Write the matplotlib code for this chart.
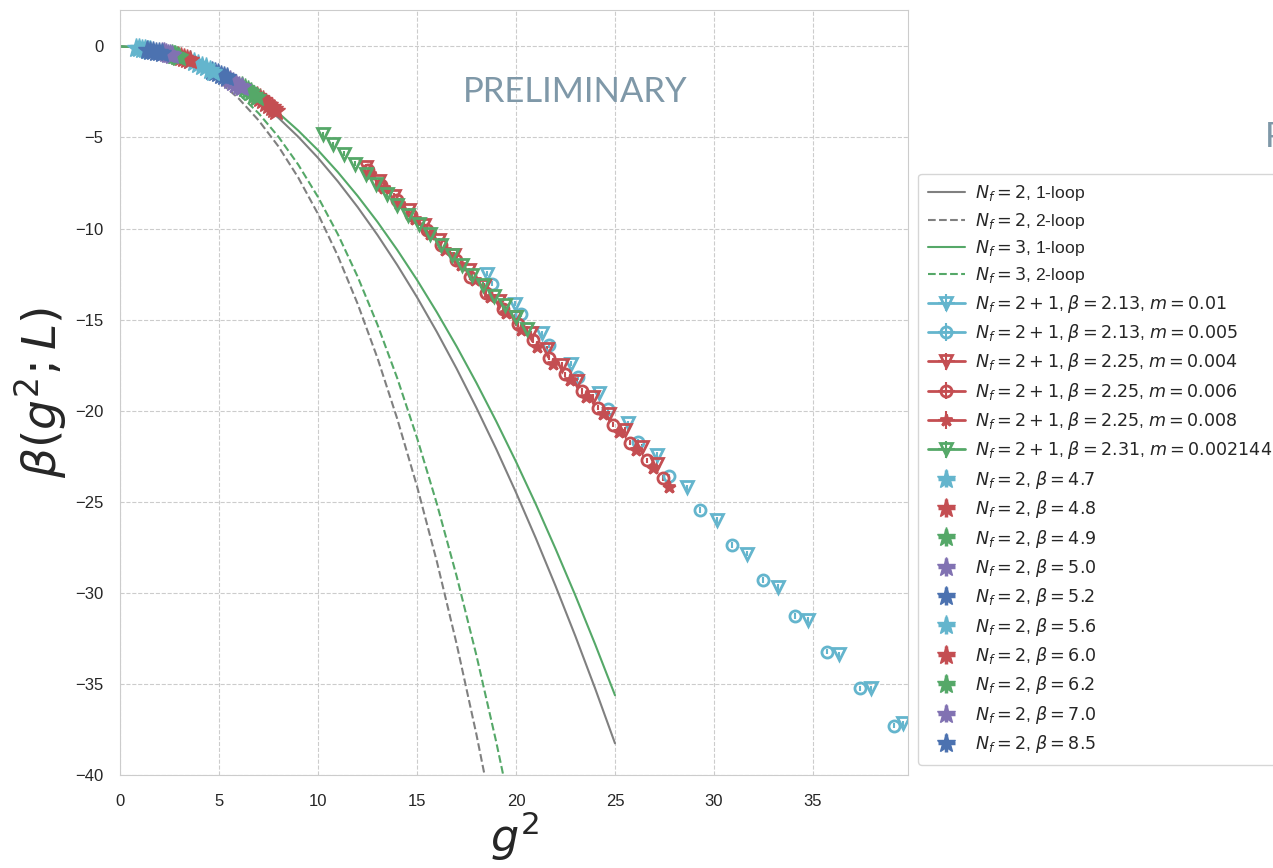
import matplotlib

matplotlib.use("Agg")
import matplotlib.pyplot as plt
import seaborn as sns

sns.set_style("whitegrid", {"grid.linestyle": "--", "grid.color": ".8", "axes.edgecolor": ".8"})
plt.rcParams["font.family"] = ["Liberation Sans", "DejaVu Sans"]

BLUE, GREEN, RED, PURPLE, CYAN = "#4C72B0", "#55A868", "#C44E52", "#8172B2", "#64B5CD"
GRAY = "#808080"

# perturbative curves
g2_1l = [0, 1, 2, 3, 4, 5, 6, 7, 8, 9, 10, 11, 12, 13, 14, 15, 16, 17, 18, 19, 20, 21, 22, 23, 24, 25]
nf2_1loop = [0, -0.06, -0.24, -0.55, -0.98, -1.53, -2.20, -3.00, -3.92, -4.96, -6.12, -7.41, -8.82,
             -10.35, -12.00, -13.77, -15.67, -17.69, -19.84, -22.10, -24.49, -27.00, -29.63, -32.38,
             -35.26, -38.26]
nf3_1loop = [0, -0.06, -0.23, -0.51, -0.91, -1.43, -2.05, -2.79, -3.65, -4.62, -5.70, -6.90, -8.21,
             -9.63, -11.17, -12.82, -14.59, -16.47, -18.47, -20.58, -22.80, -25.13, -27.59, -30.15,
             -32.83, -35.62]
g2_2l = [0, 1, 2, 3, 4, 5, 6, 7, 8, 9, 10, 11, 12, 13, 14, 15, 16, 17, 18, 19, 20]
nf2_2loop = [0, -0.06, -0.27, -0.63, -1.18, -1.91, -2.87, -4.06, -5.49, -7.20, -9.20, -11.50, -14.13,
             -17.10, -20.44, -24.15, -28.27, -32.80, -37.77, -43.19, -49.0]
nf3_2loop = [0, -0.06, -0.25, -0.58, -1.08, -1.75, -2.61, -3.67, -4.96, -6.49, -8.27, -10.31, -12.64,
             -15.27, -18.21, -21.49, -25.10, -29.08, -33.43, -38.18, -43.33]

# Nf = 2+1 data
b213_m01_x = [18.55, 19.95, 21.3, 22.76, 24.2, 25.67, 27.14, 28.65, 30.14, 31.68, 33.22, 34.76, 36.33, 37.91, 39.53]
b213_m01_y = [-12.47, -14.12, -15.76, -17.41, -19.05, -20.7, -22.44, -24.21, -26.0, -27.84, -29.67, -31.5, -33.38, -35.24, -37.16]
b213_m005_x = [18.8, 20.24, 21.67, 23.15, 24.66, 26.18, 27.73, 29.29, 30.89, 32.49, 34.09, 35.73, 37.37, 39.09]
b213_m005_y = [-13.02, -14.7, -16.41, -18.14, -19.93, -21.71, -23.6, -25.46, -27.38, -29.3, -31.26, -33.23, -35.24, -37.29]
b225_m004_x = [12.4, 13.1, 13.85, 14.6, 15.35, 16.1, 16.85, 17.6, 18.4, 19.15, 19.95, 20.75, 21.55, 22.3, 23.1, 23.9, 24.71, 25.5, 26.35, 27.1]
b225_m004_y = [-6.6, -7.4, -8.2, -9.0, -9.8, -10.65, -11.45, -12.3, -13.15, -14.0, -14.85, -15.75, -16.59, -17.5, -18.36, -19.24, -20.16, -21.07, -21.99, -22.9]
b225_m006_x = [12.5, 13.2, 14.0, 14.7, 15.5, 16.2, 16.95, 17.68, 18.5, 19.36, 20.1, 20.87, 21.67, 22.47, 23.32, 24.12, 24.92, 25.76, 26.6, 27.44]
b225_m006_y = [-6.8, -7.6, -8.45, -9.25, -10.1, -10.9, -11.75, -12.66, -13.55, -14.39, -15.25, -16.13, -17.08, -18.0, -18.91, -19.83, -20.76, -21.75, -22.72, -23.69]
b225_m008_x = [12.6, 13.35, 14.1, 14.9, 15.65, 16.4, 17.2, 17.95, 18.7, 19.5, 20.25, 21.04, 21.89, 22.73, 23.54, 24.38, 25.22, 26.06, 26.9, 27.73]
b225_m008_y = [-7.0, -7.8, -8.65, -9.5, -10.3, -11.15, -12.0, -12.85, -13.75, -14.65, -15.55, -16.5, -17.41, -18.33, -19.24, -20.19, -21.16, -22.17, -23.17, -24.18]
b231_x = [10.24, 10.77, 11.31, 11.87, 12.41, 12.93, 13.5, 14.0, 14.56, 15.12, 15.66, 16.2, 16.75, 17.29, 17.79, 18.35, 18.9, 19.44, 20.0, 20.55]
b231_y = [-4.83, -5.38, -5.89, -6.44, -6.99, -7.53, -8.12, -8.69, -9.24, -9.73, -10.32, -10.88, -11.43, -12.02, -12.57, -13.11, -13.72, -14.21, -14.85, -15.5]

# Nf = 2 data, (g2, beta) per lattice beta
nf2_betas = ["4.7", "4.8", "4.9", "5.0", "5.2", "5.6", "6.0", "6.2", "7.0", "8.5"]
nf2_colors = [CYAN, RED, GREEN, PURPLE, BLUE, CYAN, RED, GREEN, PURPLE, BLUE]
nf2_x = [
    [0.8, 0.95, 1.1, 1.25, 1.4, 1.52],
    [6.9, 7.05, 7.2, 7.35, 7.5, 7.65, 7.8, 7.9],
    [6.15, 6.3, 6.45, 6.6, 6.75, 6.9],
    [5.4, 5.55, 5.7, 5.85, 6.0, 6.15],
    [4.65, 4.8, 4.95, 5.1, 5.25, 5.4],
    [3.55, 3.75, 3.95, 4.15, 4.35, 4.55, 4.7],
    [2.95, 3.1, 3.25, 3.4, 3.55],
    [2.6, 2.7, 2.8, 2.9, 3.0],
    [2.1, 2.2, 2.3, 2.4, 2.5, 2.6],
    [1.35, 1.5, 1.65, 1.8, 1.95, 2.1],
]
nf2_y = [
    [-0.07, -0.1, -0.13, -0.15, -0.17, -0.19],
    [-2.7, -2.82, -2.95, -3.08, -3.2, -3.33, -3.45, -3.52],
    [-2.2, -2.3, -2.42, -2.53, -2.65, -2.75],
    [-1.75, -1.85, -1.95, -2.05, -2.15, -2.25],
    [-1.33, -1.4, -1.48, -1.55, -1.62, -1.7],
    [-0.77, -0.85, -0.95, -1.05, -1.15, -1.27, -1.38],
    [-0.5, -0.56, -0.62, -0.69, -0.77],
    [-0.42, -0.45, -0.49, -0.53, -0.57],
    [-0.3, -0.33, -0.36, -0.39, -0.43, -0.46],
    [-0.22, -0.24, -0.27, -0.3, -0.33, -0.36],
]

fig = plt.figure(figsize=(12.73, 8.68), dpi=100)
ax = fig.add_axes([0.0943, 0.1071, 0.619, 0.8814])

ax.plot(g2_1l, nf2_1loop, color=GRAY, lw=1.5, label=r"$N_f=2$, 1-loop")
ax.plot(g2_2l, nf2_2loop, color=GRAY, lw=1.5, ls="--", label=r"$N_f=2$, 2-loop")
ax.plot(g2_1l, nf3_1loop, color=GREEN, lw=1.5, label=r"$N_f=3$, 1-loop")
ax.plot(g2_2l, nf3_2loop, color=GREEN, lw=1.5, ls="--", label=r"$N_f=3$, 2-loop")

nf21 = [
    (b213_m01_x, b213_m01_y, "v", CYAN, False, r"$N_f=2+1$, $\beta=2.13$, $m=0.01$"),
    (b213_m005_x, b213_m005_y, "o", CYAN, False, r"$N_f=2+1$, $\beta=2.13$, $m=0.005$"),
    (b225_m004_x, b225_m004_y, "v", RED, False, r"$N_f=2+1$, $\beta=2.25$, $m=0.004$"),
    (b225_m006_x, b225_m006_y, "o", RED, False, r"$N_f=2+1$, $\beta=2.25$, $m=0.006$"),
    (b225_m008_x, b225_m008_y, "*", RED, True, r"$N_f=2+1$, $\beta=2.25$, $m=0.008$"),
    (b231_x, b231_y, "v", GREEN, False, r"$N_f=2+1$, $\beta=2.31$, $m=0.002144$"),
]
for xs, ys, mk, c, filled, lab in nf21:
    # one call per point so the legend shows a line but no lines join the points
    for k in range(len(xs)):
        ax.errorbar(xs[k], ys[k], xerr=0.05, yerr=0.15, fmt=mk + "-", color=c,
                    mfc=c if filled else "none", mec=c, mew=2, ms=8 if mk != "*" else 9,
                    lw=2, elinewidth=1.5, capsize=0, label=lab if k == 0 else None)

for xs, ys, c, b in zip(nf2_x, nf2_y, nf2_colors, nf2_betas):
    ax.errorbar(xs, ys, xerr=0.06, yerr=0.2, fmt="*", color=c, mfc=c, mec=c, ms=14,
                elinewidth=2.5, capsize=0, label=r"$N_f=2$, $\beta=%s$" % b)

ax.set_xlim(0, 39.8)
ax.set_ylim(-40, 2)
ax.set_xticks(range(0, 40, 5))
ax.set_yticks(range(-40, 1, 5))
ax.tick_params(labelsize=12, colors=".15", length=0)
ax.tick_params(axis="x", pad=14)
ax.tick_params(axis="y", pad=12)
ax.set_xlabel(r"$g^2$", fontsize=32, labelpad=0)
ax.set_ylabel(r"$\beta(g^2;L)$", fontsize=34, labelpad=4)

ax.text(0.577, 0.893, "PRELIMINARY", transform=ax.transAxes, ha="center", va="center",
        fontsize=25, color="#7f98a8", family="Lato")
fig.text(0.9937, 0.842, "PRELIMINARY", ha="left", va="center", fontsize=25,
         color="#7f98a8", family="Lato")

leg = ax.legend(loc="upper left", bbox_to_anchor=(1.0127, 0.786), fontsize=12.6,
                frameon=True, handlelength=2.15, handletextpad=0.55, borderpad=0.55,
                labelspacing=0.42, borderaxespad=0, numpoints=1)
leg.get_frame().set_edgecolor(".8")
leg.get_frame().set_facecolor("white")

fig.savefig("out.png", dpi=100)
